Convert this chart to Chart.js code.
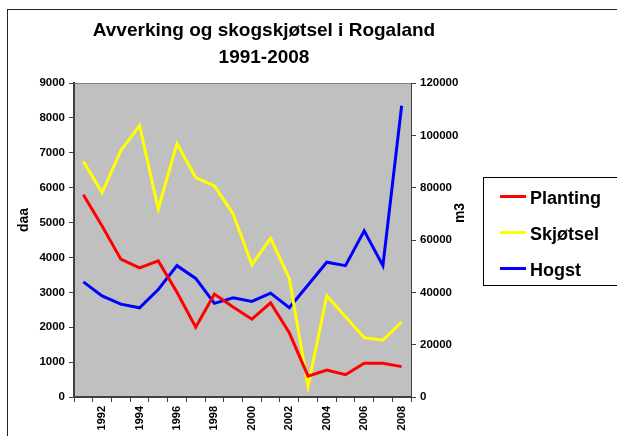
<!DOCTYPE html>
<html>
<head>
<meta charset="utf-8">
<script src="https://cdn.jsdelivr.net/npm/chart.js@4"></script>
<style>
  body { margin: 0; background: #fff; }
  #wrap { position: relative; width: 617px; height: 436px; overflow: hidden; }
  #frame { position: absolute; left: 7px; top: 9px; width: 640px; height: 460px; border: 1.5px solid #222; }
  #chart { position: absolute; left: 0; top: 0; }
</style>
</head>
<body>
<div id="wrap">
  <div id="frame"></div>
  <canvas id="chart" width="617" height="436"></canvas>
</div>
<script>
// Data lest av fra figuren
const years = ['1991', '1992', '1993', '1994', '1995', '1996', '1997', '1998', '1999',
               '2000', '2001', '2002', '2003', '2004', '2005', '2006', '2007', '2008'];
const planting = [5800, 4900, 3950, 3700, 3900, 3000, 2000, 2950, 2580, 2230, 2700, 1840, 600, 770, 640, 970, 970, 870];
const skjotsel = [6750, 5860, 7060, 7780, 5390, 7260, 6290, 6050, 5250, 3790, 4550, 3400, 310, 2900, 2300, 1700, 1630, 2150];
const hogst = [44000, 38600, 35500, 34100, 41100, 50200, 45300, 35800, 37900, 36500, 39700, 34100, 42800, 51500, 50200, 63500, 50200, 111300];

const titleLines = ['Avverking og skogskjøtsel i Rogaland', '1991-2008'];
const leftTitle = 'daa';
const rightTitle = 'm3';

const FONT = '"Liberation Sans", Arial, Helvetica, sans-serif';
const axisColor = '#404040';

// Grå plottflate, tittel, aksetitler og forklaring
const decor = {
    id: 'decor',
    beforeDraw(chart) {
        const { ctx, chartArea: a } = chart;
        ctx.save();
        ctx.fillStyle = '#C0C0C0';
        ctx.fillRect(a.left, a.top, a.right - a.left, a.bottom - a.top);
        ctx.strokeStyle = '#808080';
        ctx.lineWidth = 1;
        ctx.beginPath();
        ctx.moveTo(a.left, a.top + 0.5);
        ctx.lineTo(a.right, a.top + 0.5);
        ctx.stroke();
        ctx.restore();
    },
    afterDraw(chart) {
        const ctx = chart.ctx;
        ctx.save();
        ctx.fillStyle = '#000';
        ctx.textAlign = 'center';
        ctx.textBaseline = 'alphabetic';
        ctx.font = 'bold 19px ' + FONT;
        ctx.fillText(titleLines[0], 264, 36);
        ctx.fillText(titleLines[1], 264, 63);

        // aksetitler
        ctx.font = 'bold 14px ' + FONT;
        ctx.textBaseline = 'middle';
        ctx.save();
        ctx.translate(24, 220);
        ctx.rotate(-Math.PI / 2);
        ctx.fillText(leftTitle, 0, 0);
        ctx.restore();
        ctx.save();
        ctx.translate(460, 213);
        ctx.rotate(-Math.PI / 2);
        ctx.fillText(rightTitle, 0, 0);
        ctx.restore();

        // forklaring
        ctx.strokeStyle = '#000';
        ctx.lineWidth = 1;
        ctx.strokeRect(483.5, 177.5, 150, 108);
        ctx.font = 'bold 18px ' + FONT;
        ctx.textAlign = 'left';
        ctx.textBaseline = 'alphabetic';
        chart.data.datasets.forEach((ds, i) => {
            const y = 196.5 + i * 36;
            ctx.strokeStyle = ds.borderColor;
            ctx.lineWidth = 3;
            ctx.beginPath();
            ctx.moveTo(500, y);
            ctx.lineTo(526, y);
            ctx.stroke();
            ctx.fillStyle = '#000';
            ctx.fillText(ds.label, 530, y + 7.5);
        });
        ctx.restore();
    }
};

const tickFont = { family: FONT, size: 11.5, weight: 'bold' };
const plain = (v) => String(v);

const ctx = document.getElementById('chart').getContext('2d');
const chart = new Chart(ctx, {
    type: 'line',
    data: {
        labels: years,
        datasets: [
            { label: 'Planting', data: planting, borderColor: '#FF0000', yAxisID: 'y' },
            { label: 'Skjøtsel', data: skjotsel, borderColor: '#FFFF00', yAxisID: 'y' },
            { label: 'Hogst', data: hogst, borderColor: '#0000FF', yAxisID: 'y1' }
        ]
    },
    options: {
        responsive: false,
        animation: false,
        layout: { padding: { top: 83, left: 0, right: 0, bottom: 0 } },
        elements: {
            line: { borderWidth: 3, tension: 0, fill: false },
            point: { radius: 0 }
        },
        plugins: {
            legend: { display: false },
            title: { display: false },
            tooltip: { enabled: false }
        },
        scales: {
            x: {
                type: 'category',
                offset: true,
                grid: { offset: true, drawOnChartArea: false, drawTicks: true, tickLength: 5, color: axisColor },
                border: { color: axisColor, width: 2 },
                ticks: {
                    autoSkip: false,
                    maxRotation: 90,
                    minRotation: 90,
                    padding: 4,
                    color: '#000',
                    font: { family: FONT, size: 11, weight: 'bold' },
                    callback: (v, i) => (i % 2 === 1 ? years[i] : '')
                },
                afterFit: (s) => { s.height = 39; }
            },
            y: {
                position: 'left',
                min: 0,
                max: 9000,
                grid: { drawOnChartArea: false, tickLength: 5, color: axisColor },
                border: { color: axisColor, width: 2 },
                ticks: { stepSize: 1000, padding: 4, color: '#000', font: tickFont, callback: plain },
                afterFit: (s) => { s.width = 74; }
            },
            y1: {
                position: 'right',
                min: 0,
                max: 120000,
                grid: { drawOnChartArea: false, tickLength: 5, color: axisColor },
                border: { color: axisColor, width: 1 },
                ticks: { stepSize: 20000, padding: 4, color: '#000', font: tickFont, callback: plain },
                afterFit: (s) => { s.width = 206; }
            }
        }
    },
    plugins: [decor]
});
</script>
</body>
</html>
